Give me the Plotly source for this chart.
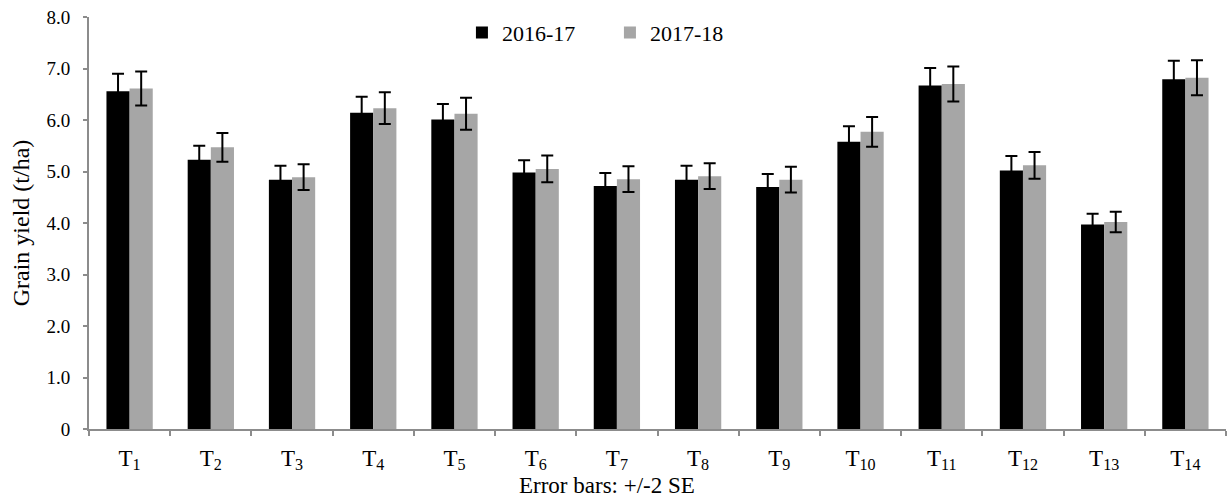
import plotly.graph_objects as go

categories = ["T<sub>1</sub>", "T<sub>2</sub>", "T<sub>3</sub>", "T<sub>4</sub>", "T<sub>5</sub>",
              "T<sub>6</sub>", "T<sub>7</sub>", "T<sub>8</sub>", "T<sub>9</sub>", "T<sub>10</sub>",
              "T<sub>11</sub>", "T<sub>12</sub>", "T<sub>13</sub>", "T<sub>14</sub>"]
y_2016_17 = [6.56, 5.23, 4.84, 6.14, 6.01, 4.98, 4.72, 4.84, 4.70, 5.58, 6.67, 5.02, 3.97, 6.79]
err_2016_17 = [0.34, 0.27, 0.27, 0.31, 0.30, 0.24, 0.25, 0.27, 0.25, 0.30, 0.34, 0.28, 0.21, 0.36]
y_2017_18 = [6.61, 5.47, 4.89, 6.23, 6.12, 5.05, 4.85, 4.91, 4.84, 5.77, 6.70, 5.12, 4.02, 6.82]
err_2017_18 = [0.33, 0.28, 0.25, 0.31, 0.31, 0.26, 0.25, 0.25, 0.25, 0.29, 0.34, 0.26, 0.20, 0.34]
ytick_vals = [0, 1, 2, 3, 4, 5, 6, 7, 8]
ytick_text = ["0", "1.0", "2.0", "3.0", "4.0", "5.0", "6.0", "7.0", "8.0"]

FONT = "Liberation Serif"

fig = go.Figure()
fig.add_trace(go.Bar(
    x=categories, y=y_2016_17, name="2016-17",
    marker=dict(color="#000000", line=dict(width=0)),
    error_y=dict(type="data", array=err_2016_17, visible=True,
                 color="#000000", thickness=2, width=6),
))
fig.add_trace(go.Bar(
    x=categories, y=y_2017_18, name="2017-18",
    marker=dict(color="#a6a6a6", line=dict(width=0)),
    error_y=dict(type="data", array=err_2017_18, visible=True,
                 color="#000000", thickness=2, width=6),
))

fig.update_layout(
    width=1228, height=500,
    margin=dict(l=89, r=2, t=17, b=71, autoexpand=False),
    paper_bgcolor="white", plot_bgcolor="white",
    barmode="group", bargap=0.43, bargroupgap=0,
    font=dict(family=FONT, size=19, color="#000000"),
    legend=dict(orientation="h", x=0.328, y=0.962, xanchor="left", yanchor="middle",
                font=dict(family=FONT, size=22), bgcolor="rgba(0,0,0,0)",
                entrywidth=103, entrywidthmode="pixels",
                itemwidth=30, itemsizing="constant", traceorder="normal"),
    xaxis=dict(
        type="category", showline=True, linecolor="#8c8c8c", linewidth=2,
        ticks="outside", tickson="boundaries", ticklen=5, tickwidth=2, tickcolor="#8c8c8c",
        tickfont=dict(family=FONT, size=23), showgrid=False, zeroline=False,
        ticklabelstandoff=7,
    ),
    yaxis=dict(
        range=[0, 8], tickvals=ytick_vals, ticktext=ytick_text,
        showline=True, linecolor="#8c8c8c", linewidth=2,
        ticks="outside", ticklen=4, tickwidth=2, tickcolor="#8c8c8c",
        tickfont=dict(family=FONT, size=19), showgrid=False, zeroline=False,
        ticklabelstandoff=9,
        title=dict(text="Grain yield (t/ha)", font=dict(family=FONT, size=24), standoff=10),
    ),
    annotations=[dict(
        text="Error bars: +/-2 SE", xref="paper", yref="paper",
        x=0.456, y=-0.138, xanchor="center", yanchor="middle", showarrow=False,
        font=dict(family=FONT, size=23),
    )],
)

fig.write_html("out.html", config={"displayModeBar": False},
               post_script="document.body.style.margin='0';document.body.style.overflow='hidden';")
